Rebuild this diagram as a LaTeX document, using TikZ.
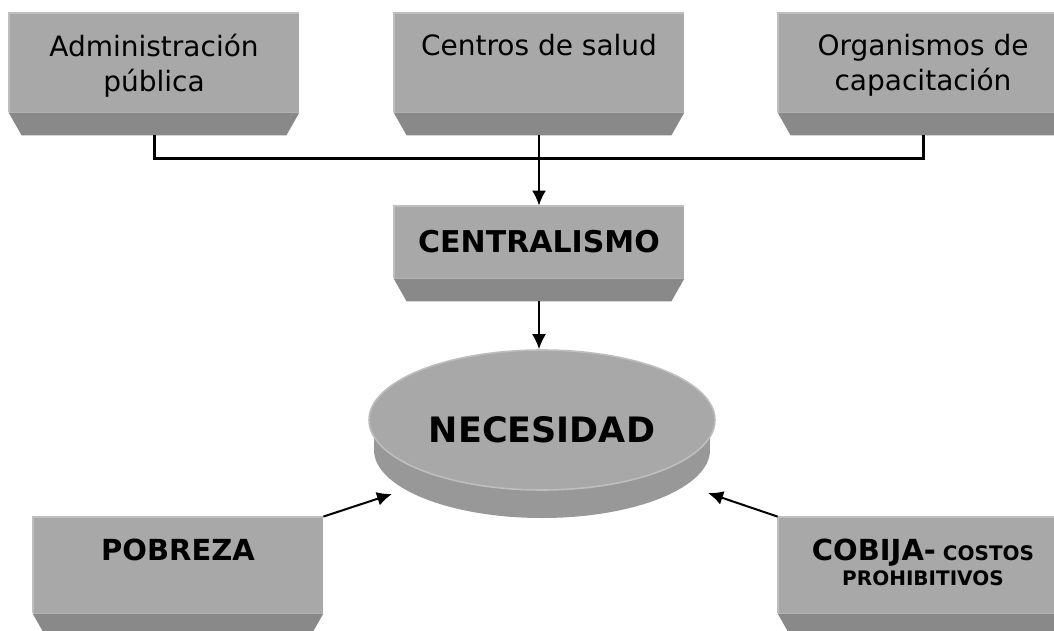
\documentclass[tikz,border=0pt]{standalone}
\usepackage{fontspec}
\setmainfont{DejaVu Sans}
\usepackage{tikz}
\usetikzlibrary{arrows.meta,shapes.geometric,positioning}
\definecolor{faceg}{RGB}{168,168,168}
\definecolor{bevelg}{RGB}{137,137,137}
\definecolor{rimg}{RGB}{190,190,190}
\definecolor{sideg}{RGB}{152,152,152}

\begin{document}
\begin{tikzpicture}
                \tikzset{x={(0.5pt, 0pt)}, y={(0pt, -0.5pt)}}
                \tikzset{face/.style={fill=faceg, minimum width=145pt, minimum height=49.5pt, inner sep=0pt},
                         bevel/.style={fill=bevelg},
                         rim/.style={draw=rimg, line width=1pt},
                         txt/.style={align=center, inner sep=0pt, font=\fontsize{14}{17.5}\selectfont},
                         btxt/.style={align=center, inner sep=0pt, font=\bfseries\fontsize{14.5}{17.5}\selectfont},
                         link/.style={line width=1.5pt},
                         arr/.style={-{Latex[length=7.5pt, width=7pt]}, line width=1pt}}
                \useasboundingbox (0, 0) rectangle (1054, 631);
                \clip (0, 0) rectangle (1054, 631);
                \node[face] (admin) at (154, 62.5) {};
                \node[face] (salud) at (539, 62.5) {};
                \node[face] (organ) at (923, 62.5) {};
                \node[face, minimum height=36pt] (central) at (539, 242) {};
                \node[face, minimum height=48pt] (pobreza) at (178, 565) {};
                \node[face, minimum height=48pt] (cobija) at (923, 565) {};
                \foreach \n in {admin, salud, organ, central, pobreza, cobija} {
                    \fill[bevel] (\n.south west) -- (\n.south east) -- ++(-13, 23) -- ([xshift=6.5pt, yshift=-11.5pt]\n.south west) -- cycle;
                    \draw[rim] (\n.south west) -- (\n.north west) -- (\n.north east);
                    \coordinate (\n-b) at ([yshift=-11.5pt]\n.south);
                }
                \node[txt, below=10.5pt of admin.north] {Administración\\pública};
                \node[txt, below=10.5pt of salud.north] {Centros de salud};
                \node[txt, below=10.5pt of organ.north] {Organismos de\\capacitación};
                \node[btxt, font=\bfseries\fontsize{15}{18}\selectfont] at (central) {CENTRALISMO};
                \node[btxt, below=11pt of pobreza.north] {POBREZA};
                \node[btxt, font=\bfseries\fontsize{10}{12.5}\selectfont, below=11pt of cobija.north]
                    {{\fontsize{14.5}{17.5}\selectfont COBIJA-} COSTOS\\PROHIBITIVOS};
                \fill[sideg] (542, 450) ellipse[x radius=168, y radius=68];
                \fill[sideg] (374, 420) rectangle (710, 450);
                \node[ellipse, fill=faceg, draw=rimg, line width=0.8pt, minimum width=173pt, minimum height=70pt, inner sep=0pt] (nec) at (542, 420) {};
                \node[btxt, font=\bfseries\fontsize{17.5}{20}\selectfont] (necT) at (542, 430) {NECESIDAD};
                \coordinate (bus) at (539, 158);
                \coordinate (necL) at (392, 494);
                \coordinate (necR) at (708, 493);
                \draw[link] (admin-b) |- (bus) -| (organ-b);
                \draw[arr] (salud-b) -- (central.north);
                \draw[arr] (central-b) -- (central-b |- nec.north);
                \draw[arr] (pobreza.north east) -- (necL);
                \draw[arr] (cobija.north west) -- (necR);
            \end{tikzpicture}
\end{document}
